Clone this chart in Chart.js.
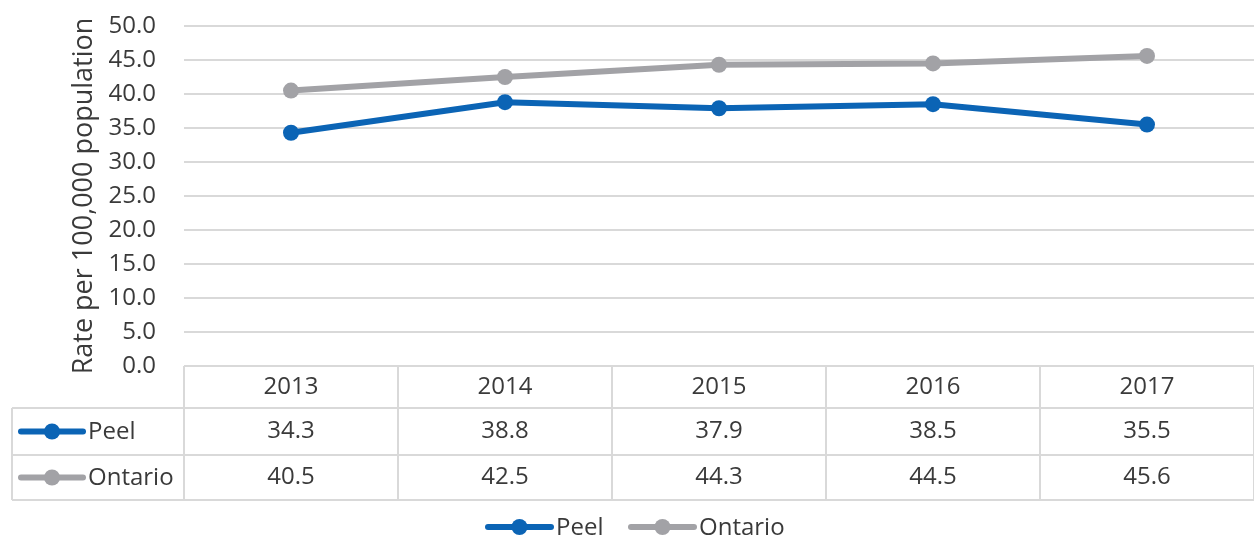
<!DOCTYPE html>
<html>
<head>
<meta charset="utf-8">
<script src="https://cdn.jsdelivr.net/npm/chart.js@4/dist/chart.umd.min.js"></script>
<style>
  html, body { margin: 0; padding: 0; background: #fff; overflow: hidden; }
  #wrap { position: relative; width: 1262px; height: 540px; }
</style>
</head>
<body>
<div id="wrap"><canvas id="chart"></canvas></div>
<script>
const years = ['2013', '2014', '2015', '2016', '2017'];
const peelRates = [34.3, 38.8, 37.9, 38.5, 35.5];
const ontarioRates = [40.5, 42.5, 44.3, 44.5, 45.6];
const seriesNames = ['Peel', 'Ontario'];
const seriesColors = ['#0b64b5', '#a2a2a6'];
const yMin = 0, yMax = 50, yStep = 5;

const textColor = '#3a3a3a';
const lineColor = '#d9d9d9';
const fontFamily = '"Open Sans", "Noto Sans", sans-serif';

function drawKey(ctx, x1, x2, y, color) {
    ctx.save();
    ctx.strokeStyle = color;
    ctx.lineWidth = 6;
    ctx.lineCap = 'round';
    ctx.beginPath();
    ctx.moveTo(x1, y);
    ctx.lineTo(x2, y);
    ctx.stroke();
    ctx.fillStyle = color;
    ctx.beginPath();
    ctx.arc((x1 + x2) / 2, y, 8, 0, Math.PI * 2);
    ctx.fill();
    ctx.restore();
}

// data table under the plot plus the legend at the bottom
const tablePlugin = {
    id: 'dataTable',
    afterDraw(chart) {
        const ctx = chart.ctx;
        const area = chart.chartArea;
        const xScale = chart.scales.x;
        const rows = [area.bottom, 408, 455, 500];
        const tableLeft = 12;
        const colW = xScale.getPixelForValue(1) - xScale.getPixelForValue(0);

        ctx.save();
        ctx.strokeStyle = lineColor;
        ctx.lineWidth = 2;
        ctx.beginPath();
        // horizontal lines
        ctx.moveTo(area.left, rows[0]); ctx.lineTo(area.right, rows[0]);
        for (let i = 1; i < rows.length; i++) {
            ctx.moveTo(tableLeft, rows[i]);
            ctx.lineTo(area.right, rows[i]);
        }
        // vertical lines
        ctx.moveTo(tableLeft, rows[1]); ctx.lineTo(tableLeft, rows[3]);
        for (let i = 0; i <= years.length; i++) {
            const x = xScale.getPixelForValue(0) - colW / 2 + i * colW;
            ctx.moveTo(x, rows[0]);
            ctx.lineTo(x, rows[3]);
        }
        ctx.stroke();

        ctx.fillStyle = textColor;
        ctx.font = '24px ' + fontFamily;
        ctx.textAlign = 'center';
        ctx.textBaseline = 'middle';
        const allRates = [peelRates, ontarioRates];
        years.forEach((yr, i) => {
            const x = xScale.getPixelForValue(i);
            ctx.fillText(yr, x, (rows[0] + rows[1]) / 2);
            allRates.forEach((arr, s) => {
                ctx.fillText(arr[i].toFixed(1), x, (rows[s + 1] + rows[s + 2]) / 2);
            });
        });

        // row headers with series keys
        ctx.textAlign = 'left';
        seriesNames.forEach((name, s) => {
            const y = (rows[s + 1] + rows[s + 2]) / 2;
            drawKey(ctx, 21, 83, y, seriesColors[s]);
            ctx.fillStyle = textColor;
            ctx.fillText(name, 88, y + 1);
        });

        // legend
        const legendY = 527;
        const legendX = [485, 628];
        seriesNames.forEach((name, s) => {
            drawKey(ctx, legendX[s] + 3, legendX[s] + 66, legendY, seriesColors[s]);
            ctx.fillStyle = textColor;
            ctx.fillText(name, legendX[s] + 71, legendY + 1);
        });
        ctx.restore();
    }
};

new Chart(document.getElementById('chart'), {
    type: 'line',
    data: {
        labels: years,
        datasets: [
            {
                label: seriesNames[0],
                data: peelRates,
                borderColor: seriesColors[0],
                backgroundColor: seriesColors[0],
                borderWidth: 6,
                pointRadius: 8,
                pointBorderWidth: 0,
                tension: 0
            },
            {
                label: seriesNames[1],
                data: ontarioRates,
                borderColor: seriesColors[1],
                backgroundColor: seriesColors[1],
                borderWidth: 6,
                pointRadius: 8,
                pointBorderWidth: 0,
                tension: 0
            }
        ]
    },
    options: {
        responsive: true,
        maintainAspectRatio: false,
        animation: false,
        layout: { padding: { top: 26, bottom: 174, left: 0, right: 4 } },
        plugins: {
            legend: { display: false },
            tooltip: { enabled: false }
        },
        scales: {
            x: {
                type: 'category',
                offset: true,
                grid: { display: false },
                border: { display: false },
                ticks: { display: false },
                afterFit(scale) { scale.height = 0; }
            },
            y: {
                min: yMin,
                max: yMax,
                ticks: {
                    stepSize: yStep,
                    padding: 3,
                    color: textColor,
                    font: { family: fontFamily, size: 24 },
                    callback: v => v.toFixed(1)
                },
                grid: { color: lineColor, lineWidth: 2, drawTicks: true, tickLength: 25, tickColor: 'rgba(0,0,0,0)' },
                border: { display: false },
                title: {
                    display: true,
                    text: 'Rate per 100,000 population',
                    color: textColor,
                    font: { family: fontFamily, size: 27 },
                    padding: { top: 68, bottom: 0 }
                },
                afterFit(scale) { scale.width = 184; }
            }
        }
    },
    plugins: [tablePlugin]
});
</script>
</body>
</html>
